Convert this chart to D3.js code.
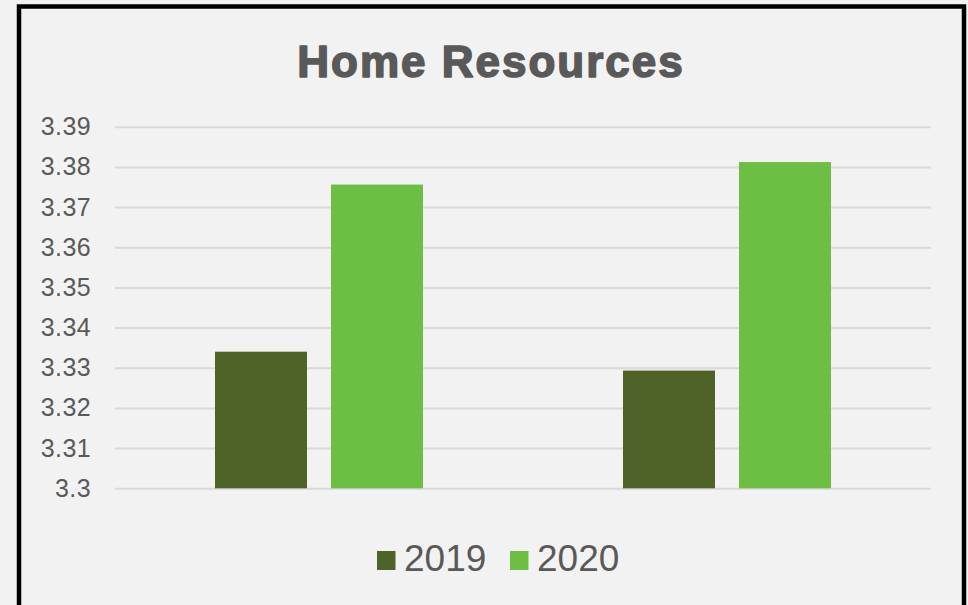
<!DOCTYPE html>
<html>
<head>
<meta charset="utf-8">
<script src="https://cdn.jsdelivr.net/npm/d3@7"></script>
<style>
  html, body { margin: 0; padding: 0; background: #f2f2f2; }
  svg { display: block; font-family: "Liberation Sans", Arial, sans-serif; }
</style>
</head>
<body>
<div id="chart"></div>
<script>
// data
const categories = ["Group 1", "Group 2"];
const seriesNames = ["2019", "2020"];
const values2019 = [3.334, 3.3293];
const values2020 = [3.3756, 3.3812];
const tickValues = [3.3, 3.31, 3.32, 3.33, 3.34, 3.35, 3.36, 3.37, 3.38, 3.39];
const tickLabels = ["3.3", "3.31", "3.32", "3.33", "3.34", "3.35", "3.36", "3.37", "3.38", "3.39"];
const colors = ["#4f6228", "#6dbf44"];

const width = 968, height = 605;
const plot = { left: 115, right: 931, top: 126.7, bottom: 488.3 };

const svg = d3.select("#chart").append("svg")
  .attr("width", width)
  .attr("height", height);

svg.append("rect")
  .attr("width", width).attr("height", height)
  .attr("fill", "#f2f2f2");

// outer frame
svg.append("rect")
  .attr("x", 19).attr("y", 6.5)
  .attr("width", 945).attr("height", 620)
  .attr("fill", "#f2f2f2")
  .attr("stroke", "#000").attr("stroke-width", 4.5);

// title (stroke to get the heavier look)
svg.append("text")
  .attr("x", 491).attr("y", 77)
  .attr("text-anchor", "middle")
  .style("font-size", "44px")
  .style("font-weight", "bold")
  .style("letter-spacing", "2px")
  .attr("fill", "#595959")
  .attr("stroke", "#595959")
  .attr("stroke-width", 1.6)
  .attr("stroke-linejoin", "round")
  .text("Home Resources");

const y = d3.scaleLinear().domain([3.3, 3.39]).range([plot.bottom, plot.top]);

const x0 = d3.scaleBand().domain(categories).range([plot.left, plot.right]).padding(0);
const x1 = d3.scaleBand().domain(seriesNames).range([0, x0.bandwidth()])
  .paddingInner(0.2069).paddingOuter(0.862);

// y axis + gridlines
const yAxis = svg.append("g")
  .attr("transform", `translate(${plot.left},0)`)
  .call(d3.axisLeft(y)
    .tickValues(tickValues)
    .tickFormat((d, i) => tickLabels[i])
    .tickSize(-(plot.right - plot.left))
    .tickPadding(24));
yAxis.select(".domain").remove();
yAxis.selectAll(".tick line").attr("stroke", "#d9d9d9").attr("stroke-width", 2);
yAxis.selectAll(".tick text")
  .attr("fill", "#595959")
  .style("font-size", "25px")
  .style("letter-spacing", "0.4px")
  .style("font-family", "'Liberation Sans', Arial, sans-serif");

// bars
const rows = categories.map((c, i) => ({ cat: c, vals: [values2019[i], values2020[i]] }));
const groups = svg.selectAll("g.grp").data(rows).join("g")
  .attr("class", "grp")
  .attr("transform", d => `translate(${x0(d.cat)},0)`);

groups.selectAll("rect")
  .data(d => d.vals.map((v, j) => ({ key: seriesNames[j], v: v, j: j })))
  .join("rect")
  .attr("x", d => x1(d.key))
  .attr("y", d => y(d.v))
  .attr("width", x1.bandwidth())
  .attr("height", d => y(3.3) - y(d.v))
  .attr("fill", d => colors[d.j]);

// legend
const legendItems = [
  { name: seriesNames[0], color: colors[0], sx: 377, tx: 404 },
  { name: seriesNames[1], color: colors[1], sx: 510, tx: 537 }
];
const legend = svg.append("g");
legend.selectAll("rect").data(legendItems).join("rect")
  .attr("x", d => d.sx).attr("y", 551)
  .attr("width", 18.5).attr("height", 19)
  .attr("fill", d => d.color);
legend.selectAll("text").data(legendItems).join("text")
  .attr("x", d => d.tx).attr("y", 571)
  .attr("fill", "#595959")
  .style("font-size", "37px")
  .text(d => d.name);
</script>
</body>
</html>
